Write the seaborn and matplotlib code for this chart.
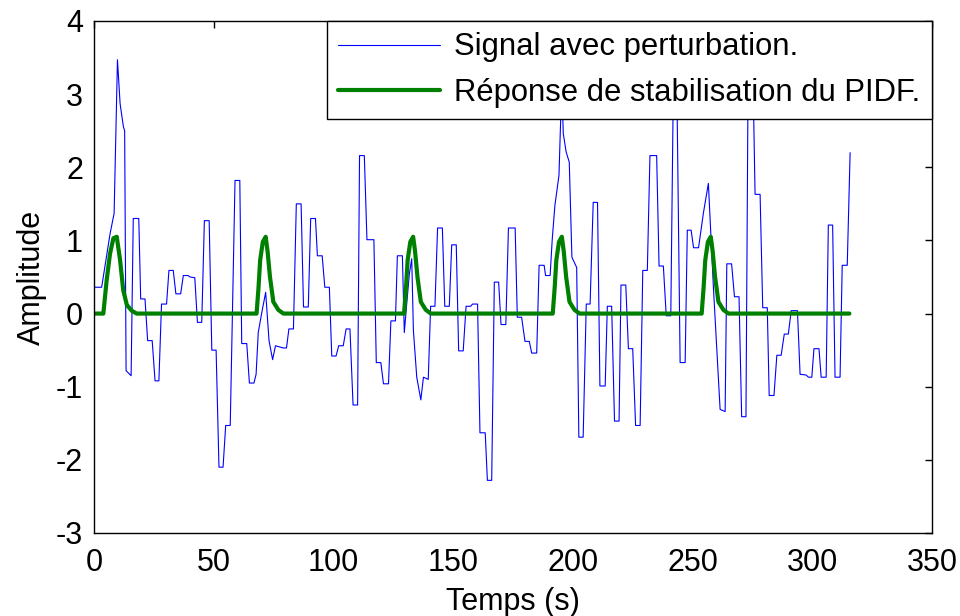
import matplotlib
matplotlib.use("Agg")
import matplotlib.pyplot as plt
import seaborn as sns
import pandas as pd

# Signal avec perturbation (time s, amplitude)
sig_t = [0, 3.2, 6.7, 8.4, 9.8, 10.9, 12.3, 12.8, 13.4, 15.5, 16.4, 18.7, 19.5, 21.3, 22.4, 24.3,
         25.5, 27.1, 28.2, 30.3, 31.3, 33.1, 34.2, 36.2, 37.3, 39.3, 40.1, 42.1, 43.2, 45.0, 46.1, 48.1,
         49.2, 51.0, 52.2, 53.9, 55.0, 56.9, 58.9, 60.9, 61.7, 63.8, 64.9, 66.8, 67.7, 68.6, 70.0, 71.7,
         73.1, 74.6, 75.8, 76.9, 79.0, 80.4, 81.4, 83.3, 84.5, 86.5, 87.5, 89.5, 90.5, 92.5, 93.3, 95.3,
         96.4, 98.3, 99.3, 101.1, 102.2, 104.1, 105.3, 106.9, 108.2, 110.1, 110.9, 112.9, 114.0, 116.9,
         117.9, 119.8, 120.9, 123.0, 124.0, 125.9, 126.7, 128.8, 129.6, 130.6, 131.7, 132.7, 133.4, 134.8,
         136.5, 137.6, 139.6, 140.6, 142.4, 143.5, 145.5, 146.5, 148.4, 149.4, 151.3, 152.3, 154.2, 155.4,
         157.3, 158.1, 160.2, 161.2, 163.4, 164.3, 166.1, 167.2, 169.0, 170.0, 172.0, 173.1, 175.9, 176.8,
         178.6, 180.0, 181.8, 182.8, 184.9, 185.9, 188.0, 188.6, 190.5, 191.4, 192.5, 194.2, 194.9, 195.5,
         196.0, 197.2, 198.5, 199.6, 201.6, 202.5, 204.3, 205.6, 207.2, 208.5, 210.3, 211.3, 213.5, 214.4,
         216.2, 217.4, 219.3, 220.1, 222.1, 223.2, 225.0, 226.2, 228.1, 229.2, 231.1, 232.2, 235.0, 236.0,
         237.8, 239.0, 240.9, 242.0, 243.4, 244.8, 246.9, 247.8, 249.4, 250.4, 252.5, 254.5, 256.6, 257.6,
         258.7, 261.5, 263.6, 264.3, 266.3, 267.5, 269.4, 270.5, 272.3, 273.2, 275.2, 276.1, 278.2, 279.3,
         281.2, 282.0, 284.0, 285.2, 287.0, 288.3, 290.0, 291.2, 293.8, 294.9, 297.4, 298.4, 299.8, 300.7,
         302.8, 303.7, 305.8, 306.7, 308.5, 309.5, 311.6, 312.5, 314.6, 315.8]
sig_y = [0.36, 0.36, 1.09, 1.37, 3.47, 2.87, 2.55, 2.5, -0.78, -0.85, 1.3, 1.3, 0.2, 0.2, -0.37, -0.37,
         -0.92, -0.92, 0.13, 0.13, 0.59, 0.59, 0.27, 0.27, 0.52, 0.52, 0.5, 0.49, -0.12, -0.12, 1.27, 1.27,
         -0.5, -0.5, -2.1, -2.1, -1.53, -1.53, 1.82, 1.82, -0.41, -0.41, -0.95, -0.95, -0.83, -0.26, 0.0, 0.29,
         -0.37, -0.63, -0.44, -0.45, -0.47, -0.47, -0.21, -0.21, 1.5, 1.5, 0.09, 0.09, 1.3, 1.3, 0.79, 0.79,
         0.36, 0.36, -0.58, -0.58, -0.44, -0.44, -0.21, -0.21, -1.25, -1.25, 2.16, 2.16, 1.01, 1.01,
         -0.67, -0.67, -0.96, -0.96, -0.1, -0.1, 0.79, 0.79, -0.26, 0.13, 0.54, 0.75, -0.23, -0.87,
         -1.18, -0.87, -0.9, 0.1, 0.1, 1.17, 1.17, 0.1, 0.1, 0.94, 0.94, -0.51, -0.51, 0.1,
         0.1, 0.13, 0.13, -1.63, -1.63, -2.28, -2.28, 0.43, 0.43, -0.15, -0.15, 1.17, 1.17, -0.05,
         -0.05, -0.38, -0.38, -0.54, -0.54, 0.66, 0.66, 0.52, 0.52, 1.02, 1.48, 1.89, 2.64, 3.0,
         2.46, 2.21, 2.07, 0.77, 0.63, -1.69, -1.69, 0.13, 0.13, 1.52, 1.52, -0.99, -0.99, 0.1,
         0.1, -1.47, -1.47, 0.39, 0.39, -0.48, -0.48, -1.53, -1.53, 0.59, 0.59, 2.16, 2.16, 0.65,
         0.65, -0.03, -0.03, 3.2, 3.2, -0.67, -0.67, 1.14, 1.14, 0.9, 0.9, 1.37, 1.78, 1.09,
         0.36, -1.31, -1.34, 0.68, 0.68, 0.23, 0.23, -1.41, -1.41, 3.3, 3.3, 1.63, 1.63, 0.08,
         0.08, -1.12, -1.12, -0.57, -0.57, -0.28, -0.28, 0.04, 0.04, -0.83, -0.84, -0.87, -0.87, -0.48,
         -0.48, -0.87, -0.87, 1.21, 1.21, -0.87, -0.87, 0.66, 0.66, 2.2]

# Réponse de stabilisation du PIDF
resp_t = [0, 3.9, 5.3, 6.7, 8.1, 9.5, 10.9, 12.2, 13.7, 15.7, 17.8,
          67.9, 68.7, 69.4, 70.5, 71.7, 72.5, 73.5, 74.9, 77.0, 79.1,
          129.5, 130.3, 131.0, 132.1, 133.3, 134.1, 135.1, 136.5, 138.6, 140.7,
          191.6, 192.4, 193.1, 194.2, 195.4, 196.2, 197.2, 198.6, 200.7, 202.8,
          253.8, 254.6, 255.3, 256.4, 257.6, 258.4, 259.4, 260.8, 262.9, 265.0,
          315.5]
resp_y = [0, 0, 0.46, 0.82, 1.03, 1.05, 0.73, 0.32, 0.12, 0.04, 0,
          0, 0.35, 0.73, 0.98, 1.05, 0.85, 0.5, 0.16, 0.05, 0,
          0, 0.35, 0.73, 0.98, 1.05, 0.85, 0.5, 0.16, 0.05, 0,
          0, 0.35, 0.73, 0.98, 1.05, 0.85, 0.5, 0.16, 0.05, 0,
          0, 0.35, 0.73, 0.98, 1.05, 0.85, 0.5, 0.16, 0.05, 0,
          0]

x_ticks = [0, 50, 100, 150, 200, 250, 300, 350]
y_ticks = [-3, -2, -1, 0, 1, 2, 3, 4]
labels = ["Signal avec perturbation.", "Réponse de stabilisation du PIDF."]

sns.set_style("white")
plt.rcParams['font.family'] = ['Liberation Sans', 'DejaVu Sans']
plt.rcParams['text.color'] = 'black'
plt.rcParams['axes.labelcolor'] = 'black'
plt.rcParams['xtick.color'] = 'black'
plt.rcParams['ytick.color'] = 'black'

fig = plt.figure(figsize=(9.6, 6.16), dpi=100)
ax = fig.add_axes([94 / 960, 83 / 616, 838 / 960, 512 / 616])

df_sig = pd.DataFrame({"t": sig_t, "y": sig_y})
df_resp = pd.DataFrame({"t": resp_t, "y": resp_y})
sns.lineplot(data=df_sig, x="t", y="y", ax=ax, color="#0000FF", linewidth=0.8,
             sort=False, estimator=None, label=labels[0])
sns.lineplot(data=df_resp, x="t", y="y", ax=ax, color="#008000", linewidth=3.0,
             sort=False, estimator=None, label=labels[1], solid_joinstyle="round")

ax.set_xlim(0, 350)
ax.set_ylim(-3, 4)
ax.set_xticks(x_ticks)
ax.set_yticks(y_ticks)
ax.set_xticklabels([str(v) for v in x_ticks])
ax.set_yticklabels([str(v) for v in y_ticks])
ax.tick_params(axis="both", direction="in", top=True, right=True, length=5, width=1,
               labelsize=22, colors="black")
ax.tick_params(axis="x", pad=11)
ax.tick_params(axis="y", pad=8)
for s in ax.spines.values():
    s.set_color("black")
    s.set_linewidth(1.0)
    s.set_visible(True)

ax.set_xlabel("Temps (s)", fontsize=22, labelpad=6, color="black")
ax.set_ylabel("Amplitude", fontsize=22, labelpad=6, color="black")

leg = ax.legend(loc="upper right", bbox_to_anchor=(1, 1), borderaxespad=0,
                fontsize=22.3, frameon=True, fancybox=False, framealpha=1,
                edgecolor="black", handlelength=3.3, handletextpad=0.45,
                labelspacing=0.5, borderpad=0.37)
leg.get_frame().set_linewidth(1.0)
leg.set_zorder(10)
for t in leg.get_texts():
    t.set_color("black")

fig.savefig("out.png", dpi=100)
